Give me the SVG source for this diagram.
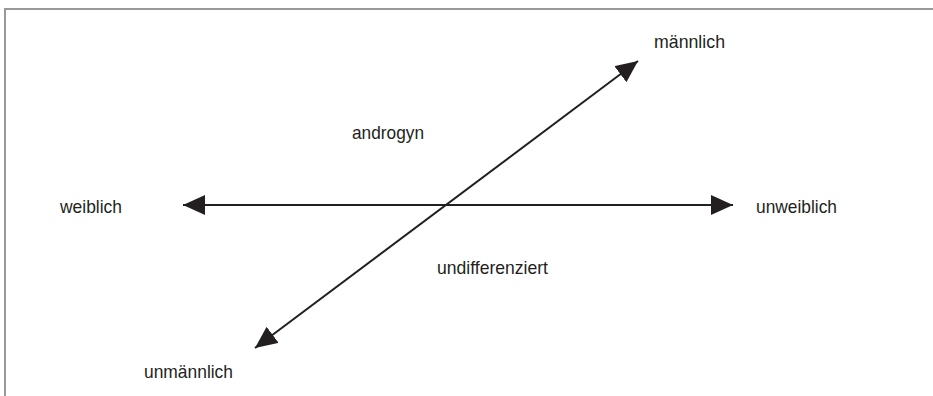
<svg xmlns="http://www.w3.org/2000/svg" width="933" height="396" viewBox="0 0 933 396">
<style>
.lbl{font-family:"Liberation Sans",Arial,sans-serif;font-size:19px;fill:#231f20}
.ax{stroke:#231f20;stroke-width:2;fill:none}
</style>
<defs>
<marker id="ah" viewBox="0 0 22 20" refX="22" refY="10" markerWidth="22" markerHeight="20" markerUnits="userSpaceOnUse" orient="auto-start-reverse">
<path d="M0,0 L22,10 L0,20 Z" fill="#231f20"/>
</marker>
</defs>
<rect width="933" height="396" fill="#fff"/>
<g id="frame">
<path d="M5,396 V9 H933" stroke="#999" stroke-width="2" fill="none"/>
</g>
<g id="connectors">
<line class="ax" x1="183" y1="205" x2="733" y2="205" marker-start="url(#ah)" marker-end="url(#ah)"/>
<line class="ax" x1="255" y1="348" x2="638" y2="61" marker-start="url(#ah)" marker-end="url(#ah)"/>
</g>
<g id="maennlich"><text class="lbl" x="654" y="48" textLength="71" lengthAdjust="spacingAndGlyphs">männlich</text></g>
<g id="androgyn"><text class="lbl" x="352" y="139" textLength="72" lengthAdjust="spacingAndGlyphs">androgyn</text></g>
<g id="weiblich"><text class="lbl" x="60" y="213" textLength="62" lengthAdjust="spacingAndGlyphs">weiblich</text></g>
<g id="unweiblich"><text class="lbl" x="756" y="213" textLength="81" lengthAdjust="spacingAndGlyphs">unweiblich</text></g>
<g id="undifferenziert"><text class="lbl" x="437" y="274" textLength="111" lengthAdjust="spacingAndGlyphs">undifferenziert</text></g>
<g id="unmaennlich"><text class="lbl" x="144" y="378" textLength="89" lengthAdjust="spacingAndGlyphs">unmännlich</text></g>
</svg>
